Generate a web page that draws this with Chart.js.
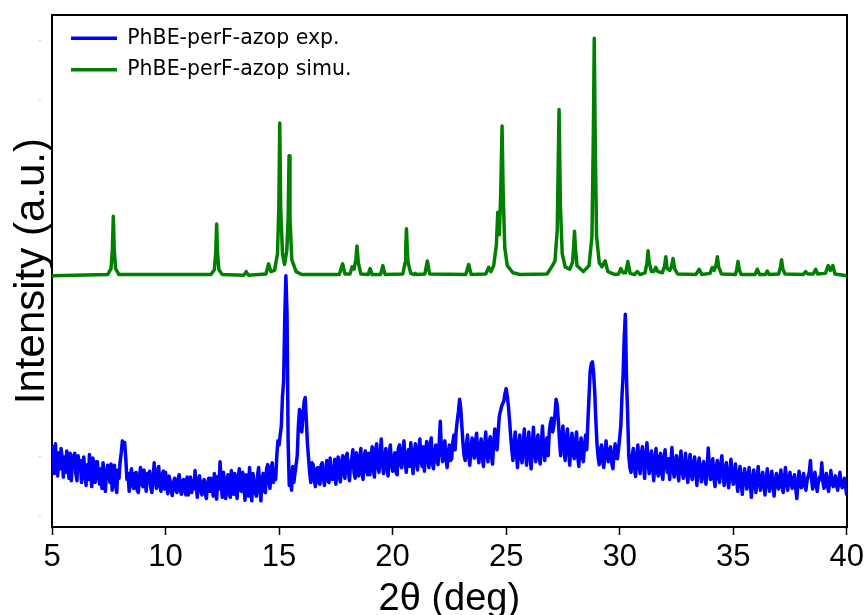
<!DOCTYPE html>
<html><head><meta charset="utf-8">
<script src="https://cdn.jsdelivr.net/npm/chart.js@4.4.1/dist/chart.umd.min.js"></script>
<style>html,body{margin:0;padding:0;background:#fff;}canvas{display:block;}</style>
</head><body>
<canvas id="c" width="868" height="615" style="width:868px;height:615px"></canvas>
<script>
const seriesNames = ['PhBE-perF-azop exp.', 'PhBE-perF-azop simu.'];
const xTicks = [5, 10, 15, 20, 25, 30, 35, 40];
const yTicks = [0, 100, 200, 300, 400, 500, 600, 700, 800];

const expAngle = [
5.00,5.05,5.10,5.15,5.20,5.25,5.30,5.35,5.40,5.45,
5.50,5.55,5.60,5.65,5.70,5.75,5.80,5.85,5.90,5.95,
6.00,6.05,6.10,6.15,6.20,6.25,6.30,6.35,6.40,6.45,
6.50,6.55,6.60,6.65,6.70,6.75,6.80,6.85,6.90,6.95,
7.00,7.05,7.10,7.15,7.20,7.25,7.30,7.35,7.40,7.45,
7.50,7.55,7.60,7.65,7.70,7.75,7.80,7.85,7.90,7.95,
8.00,8.05,8.10,8.15,8.20,8.25,8.30,8.35,8.40,8.45,
8.50,8.55,8.60,8.65,8.70,8.75,8.80,8.85,8.90,8.95,
9.00,9.05,9.10,9.15,9.20,9.25,9.30,9.35,9.40,9.45,
9.50,9.55,9.60,9.65,9.70,9.75,9.80,9.85,9.90,9.95,
10.00,10.05,10.10,10.15,10.20,10.25,10.30,10.35,10.40,10.45,
10.50,10.55,10.60,10.65,10.70,10.75,10.80,10.85,10.90,10.95,
11.00,11.05,11.10,11.15,11.20,11.25,11.30,11.35,11.40,11.45,
11.50,11.55,11.60,11.65,11.70,11.75,11.80,11.85,11.90,11.95,
12.00,12.05,12.10,12.15,12.20,12.25,12.30,12.35,12.40,12.45,
12.50,12.55,12.60,12.65,12.70,12.75,12.80,12.85,12.90,12.95,
13.00,13.05,13.10,13.15,13.20,13.25,13.30,13.35,13.40,13.45,
13.50,13.55,13.60,13.65,13.70,13.75,13.80,13.85,13.90,13.95,
14.00,14.05,14.10,14.15,14.20,14.25,14.30,14.35,14.40,14.45,
14.50,14.55,14.60,14.65,14.70,14.75,14.80,14.85,14.90,14.95,
15.00,15.05,15.10,15.15,15.20,15.25,15.30,15.35,15.40,15.45,
15.50,15.55,15.60,15.65,15.70,15.75,15.80,15.85,15.90,15.95,
16.00,16.05,16.10,16.15,16.20,16.25,16.30,16.35,16.40,16.45,
16.50,16.55,16.60,16.65,16.70,16.75,16.80,16.85,16.90,16.95,
17.00,17.05,17.10,17.15,17.20,17.25,17.30,17.35,17.40,17.45,
17.50,17.55,17.60,17.65,17.70,17.75,17.80,17.85,17.90,17.95,
18.00,18.05,18.10,18.15,18.20,18.25,18.30,18.35,18.40,18.45,
18.50,18.55,18.60,18.65,18.70,18.75,18.80,18.85,18.90,18.95,
19.00,19.05,19.10,19.15,19.20,19.25,19.30,19.35,19.40,19.45,
19.50,19.55,19.60,19.65,19.70,19.75,19.80,19.85,19.90,19.95,
20.00,20.05,20.10,20.15,20.20,20.25,20.30,20.35,20.40,20.45,
20.50,20.55,20.60,20.65,20.70,20.75,20.80,20.85,20.90,20.95,
21.00,21.05,21.10,21.15,21.20,21.25,21.30,21.35,21.40,21.45,
21.50,21.55,21.60,21.65,21.70,21.75,21.80,21.85,21.90,21.95,
22.00,22.05,22.10,22.15,22.20,22.25,22.30,22.35,22.40,22.45,
22.50,22.55,22.60,22.65,22.70,22.75,22.80,22.85,22.90,22.95,
23.00,23.05,23.10,23.15,23.20,23.25,23.30,23.35,23.40,23.45,
23.50,23.55,23.60,23.65,23.70,23.75,23.80,23.85,23.90,23.95,
24.00,24.05,24.10,24.15,24.20,24.25,24.30,24.35,24.40,24.45,
24.50,24.55,24.60,24.65,24.70,24.75,24.80,24.85,24.90,24.95,
25.00,25.05,25.10,25.15,25.20,25.25,25.30,25.35,25.40,25.45,
25.50,25.55,25.60,25.65,25.70,25.75,25.80,25.85,25.90,25.95,
26.00,26.05,26.10,26.15,26.20,26.25,26.30,26.35,26.40,26.45,
26.50,26.55,26.60,26.65,26.70,26.75,26.80,26.85,26.90,26.95,
27.00,27.05,27.10,27.15,27.20,27.25,27.30,27.35,27.40,27.45,
27.50,27.55,27.60,27.65,27.70,27.75,27.80,27.85,27.90,27.95,
28.00,28.05,28.10,28.15,28.20,28.25,28.30,28.35,28.40,28.45,
28.50,28.55,28.60,28.65,28.70,28.75,28.80,28.85,28.90,28.95,
29.00,29.05,29.10,29.15,29.20,29.25,29.30,29.35,29.40,29.45,
29.50,29.55,29.60,29.65,29.70,29.75,29.80,29.85,29.90,29.95,
30.00,30.05,30.10,30.15,30.20,30.25,30.30,30.35,30.40,30.45,
30.50,30.55,30.60,30.65,30.70,30.75,30.80,30.85,30.90,30.95,
31.00,31.05,31.10,31.15,31.20,31.25,31.30,31.35,31.40,31.45,
31.50,31.55,31.60,31.65,31.70,31.75,31.80,31.85,31.90,31.95,
32.00,32.05,32.10,32.15,32.20,32.25,32.30,32.35,32.40,32.45,
32.50,32.55,32.60,32.65,32.70,32.75,32.80,32.85,32.90,32.95,
33.00,33.05,33.10,33.15,33.20,33.25,33.30,33.35,33.40,33.45,
33.50,33.55,33.60,33.65,33.70,33.75,33.80,33.85,33.90,33.95,
34.00,34.05,34.10,34.15,34.20,34.25,34.30,34.35,34.40,34.45,
34.50,34.55,34.60,34.65,34.70,34.75,34.80,34.85,34.90,34.95,
35.00,35.05,35.10,35.15,35.20,35.25,35.30,35.35,35.40,35.45,
35.50,35.55,35.60,35.65,35.70,35.75,35.80,35.85,35.90,35.95,
36.00,36.05,36.10,36.15,36.20,36.25,36.30,36.35,36.40,36.45,
36.50,36.55,36.60,36.65,36.70,36.75,36.80,36.85,36.90,36.95,
37.00,37.05,37.10,37.15,37.20,37.25,37.30,37.35,37.40,37.45,
37.50,37.55,37.60,37.65,37.70,37.75,37.80,37.85,37.90,37.95,
38.00,38.05,38.10,38.15,38.20,38.25,38.30,38.35,38.40,38.45,
38.50,38.55,38.60,38.65,38.70,38.75,38.80,38.85,38.90,38.95,
39.00,39.05,39.10,39.15,39.20,39.25,39.30,39.35,39.40,39.45,
39.50,39.55,39.60,39.65,39.70,39.75,39.80,39.85,39.90,39.95,
40.00
];
const expIntensity = [
118,92,70,120,85,66,105,78,112,96,
64,98,72,108,84,62,104,58,88,100,
104,70,58,100,80,92,55,76,98,68,
50,85,60,102,74,48,96,82,55,90,
90,64,52,78,45,88,60,40,72,84,
80,55,86,42,70,84,50,38,76,62,
90,105,125,118,122,95,60,70,40,65,
78,50,45,70,72,42,38,66,80,52,
48,76,58,40,70,55,74,46,38,62,
88,60,45,72,82,50,40,68,74,44,
72,50,36,66,58,40,33,55,62,44,
38,60,68,42,35,58,60,40,34,64,
34,52,64,38,58,44,75,50,30,62,
66,42,34,56,60,36,28,54,62,40,
62,45,32,70,50,27,65,44,90,55,
30,72,48,28,60,68,36,30,75,52,
35,70,55,28,62,78,42,40,72,50,
25,68,58,32,80,46,24,70,55,38,
32,66,80,45,24,60,70,40,38,78,
85,58,45,80,88,55,70,60,100,125,
118,135,150,200,225,330,403,340,120,50,
75,42,82,55,70,85,100,150,178,170,
140,165,190,198,160,120,95,70,55,88,
85,60,48,78,80,55,52,84,88,62,
50,75,92,58,55,96,70,60,62,94,
52,80,98,64,56,90,100,70,62,98,
104,75,58,88,95,110,72,62,105,88,
66,96,112,70,60,100,108,75,68,104,
68,98,115,76,64,110,120,82,72,100,
128,90,70,96,112,78,66,105,118,86,
74,96,105,72,68,112,118,85,80,108,
125,92,72,100,110,82,122,95,70,104,
120,88,76,110,128,90,82,115,74,100,
124,96,80,118,130,88,78,104,118,92,
85,120,158,110,90,112,125,95,80,102,
118,92,95,122,135,110,142,160,175,195,
180,150,120,100,92,118,135,100,84,112,
130,105,96,124,138,102,88,116,128,98,
82,115,140,104,90,122,132,100,86,120,
145,118,110,140,167,175,183,188,192,205,
213,200,183,160,133,110,92,118,140,105,
80,112,135,100,88,120,145,108,84,118,
140,102,78,115,148,110,90,122,135,96,
86,118,150,112,92,125,130,100,140,155,
163,140,150,170,195,185,158,125,100,130,
150,110,92,128,145,112,84,120,138,104,
95,122,140,100,82,115,130,98,90,118,
135,110,158,200,242,255,258,240,208,160,
120,98,85,110,118,92,80,105,125,100,
90,108,115,88,78,102,120,96,95,112,
130,150,200,235,300,338,230,170,100,80,
72,100,112,80,65,98,118,85,70,104,
115,85,62,100,122,90,70,95,108,80,
58,92,112,75,66,98,104,72,60,96,
110,82,72,95,60,88,114,78,64,92,
100,74,58,90,108,76,62,85,104,70,
55,84,102,68,60,88,98,72,50,82,
96,70,56,84,90,64,52,78,113,82,
60,80,95,62,48,78,92,66,55,84,
100,72,50,76,88,60,46,70,94,68,
52,70,86,58,40,66,82,55,35,62,
78,60,44,64,80,52,30,56,76,58,
38,60,82,56,42,62,72,50,34,58,
78,56,40,60,74,52,32,55,70,50,
44,62,76,50,38,60,80,56,42,58,
72,54,45,60,68,46,28,52,74,55,
46,60,70,50,42,58,66,72,92,60,
44,58,72,52,40,56,64,60,88,56,
45,62,70,50,40,58,75,55,48,60,
66,50,42,58,72,52,46,56,62,48,
33
];

const simAngle = [5.00, 7.45,7.60,7.66,7.70,7.74,7.80,7.95, 12.00,12.15,12.21,12.25,12.29,12.35,12.50, 13.45,13.55,13.65, 14.42,14.54,14.64, 14.80,14.93,14.99,15.03,15.07,15.15,15.24,15.34,15.40,15.44,15.48,15.56,15.75,16.00, 17.65,17.80,17.90, 18.12,18.22,18.30,18.38,18.43,18.49,18.60, 18.92,19.01,19.10, 19.47,19.57,19.67, 20.45,20.55,20.58,20.61,20.64,20.68,20.80, 20.95,21.00,21.08, 21.42,21.53,21.63, 23.22,23.35,23.46, 24.10,24.23,24.33, 24.45,24.57,24.63,24.70,24.76,24.82,24.87,24.94,25.05,25.30,25.60, 26.80,27.04,27.15,27.25,27.33,27.39,27.47,27.60,27.80, 27.92,27.97,28.01,28.05,28.12, 28.40,28.65,28.78,28.84,28.88,28.92,28.98,29.10,29.22, 29.36,29.48,29.80, 29.95,30.05,30.15, 30.26,30.36,30.46, 30.65,30.78,30.90, 31.12,31.20,31.25,31.30,31.40, 31.50,31.59,31.68, 31.88,31.98,32.03,32.09,32.20, 32.28,32.35,32.42,32.55, 33.35,33.50,33.62, 33.98,34.08,34.16, 34.24,34.30,34.36,34.48, 35.10,35.16,35.21,35.27,35.35, 35.96,36.06,36.16, 36.42,36.50,36.58, 37.00,37.08,37.13,37.18,37.28, 38.08,38.19,38.28, 38.52,38.63,38.72, 39.06,39.18,39.28, 39.39,39.48, 40.00];
const simIntensity = [403, 405,415,448,503,448,415,405, 405,413,442,490,442,413,405, 404,410,404, 406,423,410, 412,440,520,660,520,440,422,445,500,605,500,430,410,405, 405,423,406, 406,418,414,430,453,425,406, 405,415,405, 405,420,405, 406,425,452,482,452,425,407, 405,407,405, 406,428,406, 405,422,405, 406,417,410, 420,455,510,472,540,655,540,450,420,408,405, 406,420,428,480,683,520,440,418,414, 425,450,478,450,420, 410,420,470,640,803,640,470,425,418, 428,410,405, 406,415,408, 408,427,407, 405,410,405, 408,425,445,425,410, 410,417,410, 408,420,435,415,412, 418,432,415,406, 405,414,405, 407,417,412, 420,435,418,406, 405,415,427,413,405, 405,414,405, 405,411,405, 406,417,430,415,406, 405,410,406, 406,414,406, 407,420,412, 420,406, 403];

const FONT_AX = '"Liberation Sans", Arial, Helvetica, sans-serif';
const FONT_LG = '"DejaVu Sans", sans-serif';

const legendPlace = {
  id: 'legendPlace',
  afterLayout(chart) {
    const lg = chart.legend;
    if (!lg) return;
    lg.left = 60; lg.top = 17;
    lg.width = 420; lg.height = 120;
    lg.right = lg.left + lg.width; lg.bottom = lg.top + lg.height;
  }
};

new Chart(document.getElementById('c'), {
  type: 'line',
  data: {
    datasets: [
      { label: seriesNames[0], data: expAngle.map((a, i) => ({x: a, y: expIntensity[i]})),
        borderColor: '#0000ff', backgroundColor: '#0000ff', borderWidth: 3.5, pointRadius: 0,
        tension: 0, borderJoinStyle: 'round', xAxisID: 'x', yAxisID: 'y' },
      { label: seriesNames[1], data: simAngle.map((a, i) => ({x: a, y: simIntensity[i]})),
        borderColor: '#008000', backgroundColor: '#008000', borderWidth: 3.5, pointRadius: 0,
        tension: 0, borderJoinStyle: 'round', xAxisID: 'x', yAxisID: 'y' }
    ]
  },
  options: {
    responsive: false, animation: false, devicePixelRatio: 1,
    layout: { padding: { left: 0, top: 10, right: 20, bottom: 0 } },
    plugins: {
      tooltip: { enabled: false },
      legend: {
        display: true, position: 'chartArea', align: 'start',
        labels: {
          boxWidth: 46, boxHeight: 3.5, padding: 11, color: '#000',
          font: { family: FONT_LG, size: 20.5 },
          generateLabels(chart) {
            const items = Chart.defaults.plugins.legend.labels.generateLabels(chart);
            items.forEach(it => { it.lineWidth = 0; it.fillStyle = it.strokeStyle; });
            return items;
          }
        }
      }
    },
    scales: {
      x: {
        type: 'linear', position: 'bottom', min: 5, max: 40,
        afterFit(s) { s.height = 88; },
        afterBuildTicks(s) { s.ticks = xTicks.map(v => ({ value: v })); },
        grid: { display: true, drawOnChartArea: false, drawTicks: true, tickLength: 8, tickWidth: 1.5, tickColor: '#000', color: '#000' },
        border: { display: true, color: '#000', width: 2 },
        ticks: { color: '#000', font: { family: FONT_AX, size: 31 }, padding: 4, maxRotation: 0, autoSkip: false },
        title: { display: true, text: '2θ (deg)', color: '#000', font: { family: FONT_AX, size: 38, lineHeight: 0.8 }, padding: { top: 0, bottom: 0 } }
      },
      y: {
        type: 'linear', position: 'left', min: -20, max: 841.67,
        afterFit(s) { s.width = 52; },
        afterBuildTicks(s) { s.ticks = yTicks.map(v => ({ value: v })); },
        grid: { display: false, drawTicks: false },
        border: { display: true, color: '#000', width: 2 },
        ticks: { callback: () => '-', color: '#999', font: { family: FONT_AX, size: 7 }, padding: 11 },
        title: { display: true, text: 'Intensity (a.u.)', color: '#000', font: { family: FONT_AX, size: 42, lineHeight: 1.2 }, padding: { top: 7.5, bottom: 0 } }
      },
      x2: {
        type: 'linear', position: 'top', display: true,
        afterFit(s) { s.height = 0; },
        grid: { display: false, drawTicks: false },
        border: { display: true, color: '#000', width: 2 },
        ticks: { display: false }
      },
      y2: {
        type: 'linear', position: 'right', display: true,
        afterFit(s) { s.width = 0; },
        grid: { display: false, drawTicks: false },
        border: { display: true, color: '#000', width: 2 },
        ticks: { display: false }
      }
    }
  },
  plugins: [legendPlace]
});
</script>
</body></html>
